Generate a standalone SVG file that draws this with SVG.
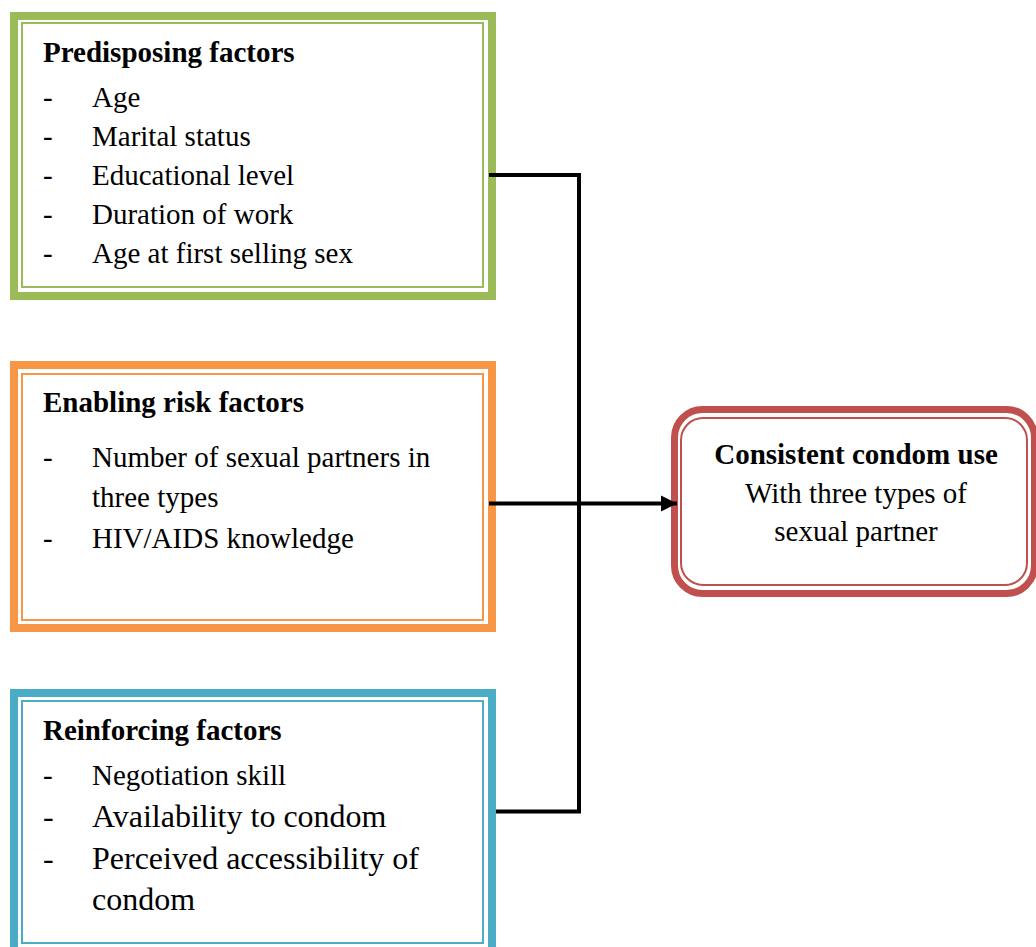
<svg xmlns="http://www.w3.org/2000/svg" width="1036" height="947" viewBox="0 0 1036 947">
<defs>
<marker id="arr" markerUnits="userSpaceOnUse" markerWidth="17" markerHeight="17" refX="16" refY="8.5" orient="auto">
<path d="M0,0.5 L16,8.5 L0,16.5 Z" fill="#000"/>
</marker>
<style>
text{font-family:"Liberation Serif","Times New Roman",serif;font-size:29px;fill:#000}
.b{font-weight:bold}
.big{font-size:32px}
.c{text-anchor:middle}
.out{fill:#fff}
.in{fill:none;stroke-width:2}
.conn{fill:none;stroke:#000;stroke-width:4}
</style>
</defs>
<rect width="1036" height="947" fill="#fff"/>
<g id="predisposing">
<rect class="out" x="14" y="16" width="478" height="280" stroke="#9bbb59" stroke-width="8"/>
<rect class="in" x="22" y="23" width="461" height="264" stroke="#9bbb59"/>
<text class="b" x="43" y="62">Predisposing factors</text>
<text x="43" y="107">-</text><text x="92" y="107">Age</text>
<text x="43" y="146">-</text><text x="92" y="146">Marital status</text>
<text x="43" y="185">-</text><text x="92" y="185">Educational level</text>
<text x="43" y="224">-</text><text x="92" y="224">Duration of work</text>
<text x="43" y="263">-</text><text x="92" y="263">Age at first selling sex</text>
</g>
<g id="enabling">
<rect class="out" x="14" y="365" width="478" height="263" stroke="#f79646" stroke-width="8"/>
<rect class="in" x="22" y="374" width="461" height="246" stroke="#f79646"/>
<text class="b" x="43" y="412">Enabling risk factors</text>
<text x="43" y="467">-</text><text x="92" y="467">Number of sexual partners in</text>
<text x="92" y="507">three types</text>
<text x="43" y="548">-</text><text x="92" y="548">HIV/AIDS knowledge</text>
</g>
<g id="reinforcing">
<rect class="out" x="14" y="693" width="478" height="265" stroke="#4bacc6" stroke-width="8"/>
<rect class="in" x="22" y="701" width="461" height="242" stroke="#4bacc6"/>
<text class="b" x="43" y="740">Reinforcing factors</text>
<text x="43" y="785">-</text><text x="92" y="785">Negotiation skill</text>
<text class="big" x="43" y="827">-</text><text class="big" x="92" y="827">Availability to condom</text>
<text class="big" x="43" y="869">-</text><text class="big" x="92" y="869">Perceived accessibility of</text>
<text class="big" x="92" y="910">condom</text>
</g>
<g id="outcome">
<rect class="out" x="674.5" y="409.5" width="360" height="184" rx="28" stroke="#c0504d" stroke-width="7"/>
<rect class="in" x="681" y="418" width="346" height="167" rx="22" stroke="#c0504d"/>
<text class="b c" x="856" y="464">Consistent condom use</text>
<text class="c" x="856" y="503">With three types of</text>
<text class="c" x="856" y="541">sexual partner</text>
</g>
<g id="connectors">
<path class="conn" d="M489,175 H579 V811.5 H496"/>
<path class="conn" d="M489,503.5 H677" marker-end="url(#arr)"/>
</g>
</svg>
